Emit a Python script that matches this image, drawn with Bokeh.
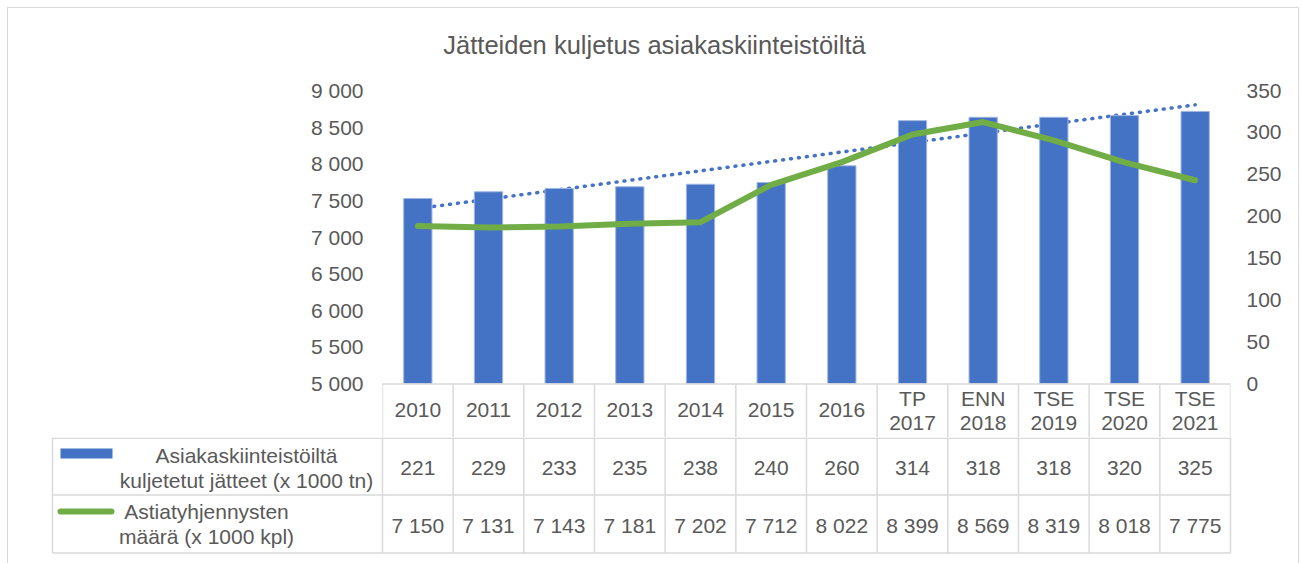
import numpy as np
from bokeh.plotting import figure
from bokeh.models import Range1d, LinearAxis, FixedTicker
from bokeh.layouts import column
from bokeh.embed import file_html
from bokeh.resources import INLINE
from bokeh.core.properties import value

# ---------------- data ----------------
title = "Jätteiden kuljetus asiakaskiinteistöiltä"
categories = ["2010", "2011", "2012", "2013", "2014", "2015", "2016",
              "TP 2017", "ENN 2018", "TSE 2019", "TSE 2020", "TSE 2021"]
waste = [221, 229, 233, 235, 238, 240, 260, 314, 318, 318, 320, 325]
emptyings = [7150, 7131, 7143, 7181, 7202, 7712, 8022, 8399, 8569, 8319, 8018, 7775]
waste_name = ["Asiakaskiinteistöiltä", "kuljetetut jätteet (x 1000 tn)"]
empty_name = ["Astiatyhjennysten", "määrä (x 1000 kpl)"]
left_ticks = [5000, 5500, 6000, 6500, 7000, 7500, 8000, 8500, 9000]
right_ticks = [0, 50, 100, 150, 200, 250, 300, 350]

# ---------------- style / layout ----------------
FONT = "Liberation Sans"
GREY = "#595959"
BLUE = "#4472C4"
GREEN = "#70AD47"
GRID = "#d9d9d9"
W = 1290
n = len(categories)
xc = [i + 0.5 for i in range(n)]
PLOT_H = 293      # pixel height of the value area
HEAD_H = 54       # pixel height of the category header row (inside the chart frame)
FRAME_H = PLOT_H + HEAD_H
LO, HI = left_ticks[0], left_ticks[-1]
RLO, RHI = right_ticks[0], right_ticks[-1]


def fmt(v):
    return f"{v:,}".replace(",", " ")


def bare(fig):
    fig.outline_line_color = None
    fig.grid.visible = False
    fig.background_fill_color = "white"
    fig.border_fill_color = "white"
    fig.frame_align = False


txt = dict(text_font=value(FONT), text_font_size="21px", text_color=GREY,
           text_align="center", text_baseline="middle")

# ---------------- title ----------------
tf = figure(width=W, height=70, x_range=Range1d(0, W), y_range=Range1d(70, 0),
            toolbar_location=None, output_backend="svg", min_border=0,
            x_axis_location=None, y_axis_location=None)
bare(tf)
tf.text(x=[646], y=[36], text=[title], text_font=value(FONT), text_font_size="25.5px",
        text_color=GREY, text_align="center", text_baseline="middle")

# ---------------- chart (value area + category header row) ----------------
ext = HEAD_H / PLOT_H
p = figure(width=W, height=12 + FRAME_H, x_range=Range1d(0, n),
           y_range=Range1d(LO - (HI - LO) * ext, HI),
           toolbar_location=None, output_backend="svg", x_axis_location=None,
           y_axis_location="left", min_border_left=374, min_border_right=68,
           min_border_top=12, min_border_bottom=0)
bare(p)
p.extra_y_ranges = {"right": Range1d(RLO - (RHI - RLO) * ext, RHI),
                    "px": Range1d(FRAME_H, 0)}
p.add_layout(LinearAxis(y_range_name="right"), "right")

p.yaxis[0].ticker = FixedTicker(ticks=left_ticks)
p.yaxis[0].major_label_overrides = {t: fmt(t) for t in left_ticks}
p.yaxis[1].ticker = FixedTicker(ticks=right_ticks)
for ax in p.yaxis:
    ax.axis_line_color = None
    ax.major_tick_line_color = None
    ax.minor_tick_line_color = None
    ax.major_tick_in = 0
    ax.major_tick_out = 0
    ax.major_label_text_font = FONT
    ax.major_label_text_font_size = "21px"
    ax.major_label_text_color = GREY
p.yaxis[0].major_label_standoff = 19
p.yaxis[1].major_label_standoff = 16

# linear trendline of the bar series (like Excel's trendline)
coef = np.polyfit(np.arange(n), waste, 1)
tx = [xc[0], xc[-1]]
ty = list(np.polyval(coef, [0, n - 1]))
p.line(tx, ty, y_range_name="right", line_color=BLUE, line_width=3.5,
       line_dash="1 7", line_cap="round")

p.vbar(x=xc, top=waste, bottom=RLO, width=0.4, y_range_name="right",
       fill_color=BLUE, line_color="#9fb5e2", line_width=1)

p.line(xc, emptyings, line_color=GREEN, line_width=6, line_join="round", line_cap="round")

# header row of the data table
p.segment(x0=[0], x1=[n], y0=[PLOT_H + 0.5], y1=[PLOT_H + 0.5], y_range_name="px",
          line_color=GRID, line_width=1.5)
bx = list(range(n + 1))
p.segment(x0=bx, x1=bx, y0=[PLOT_H] * (n + 1), y1=[FRAME_H] * (n + 1), y_range_name="px",
          line_color=GRID, line_width=1.5)
hx, hy, ht = [], [], []
for i, c in enumerate(categories):
    parts = c.split(" ")
    if len(parts) == 1:
        hx.append(xc[i]); hy.append(PLOT_H + 26.5); ht.append(parts[0])
    else:
        hx += [xc[i], xc[i]]; hy += [PLOT_H + 14.5, PLOT_H + 39.5]; ht += parts
p.text(x=hx, y=hy, text=ht, y_range_name="px", **txt)

# ---------------- data rows of the table ----------------
U = 848 / n
TH = 555 - 70 - (12 + FRAME_H)
tb = figure(width=W, height=TH, x_range=Range1d(-374 / U, (W - 374) / U),
            y_range=Range1d(TH, 0), toolbar_location=None, output_backend="svg",
            min_border=0, x_axis_location=None, y_axis_location=None)
bare(tb)
xl = (52 - 382) / U

tb.segment(x0=[xl, xl, xl], x1=[n, n, n], y0=[0.75, 57.5, 115.5], y1=[0.75, 57.5, 115.5],
           line_color=GRID, line_width=1.5)
vx = list(range(n + 1)) + [xl]
tb.segment(x0=vx, x1=vx, y0=[0] * (n + 2), y1=[115.5] * (n + 2),
           line_color=GRID, line_width=1.5)

tb.text(x=xc, y=[30.5] * n, text=[str(v) for v in waste], **txt)
tb.text(x=xc, y=[87.5] * n, text=[fmt(v) for v in emptyings], **txt)

# legend keys and names
tb.quad(left=[(60 - 382) / U], right=[(112 - 382) / U], top=[11], bottom=[21],
        fill_color=BLUE, line_color=None)
tb.segment(x0=[(60 - 382) / U], x1=[(111 - 382) / U], y0=[74], y1=[74],
           line_color=GREEN, line_width=6, line_cap="round")
tb.text(x=[(246 - 382) / U] * 2, y=[17.5, 42.5], text=waste_name, **txt)
tb.text(x=[(206 - 382) / U] * 2, y=[73.5, 98.5], text=empty_name, **txt)

layout = column(tf, p, tb, margin=(8, 0, 0, 8),
                styles={"outline": "1px solid #d9d9d9"})
open("out.html", "w").write(file_html(layout, INLINE))
